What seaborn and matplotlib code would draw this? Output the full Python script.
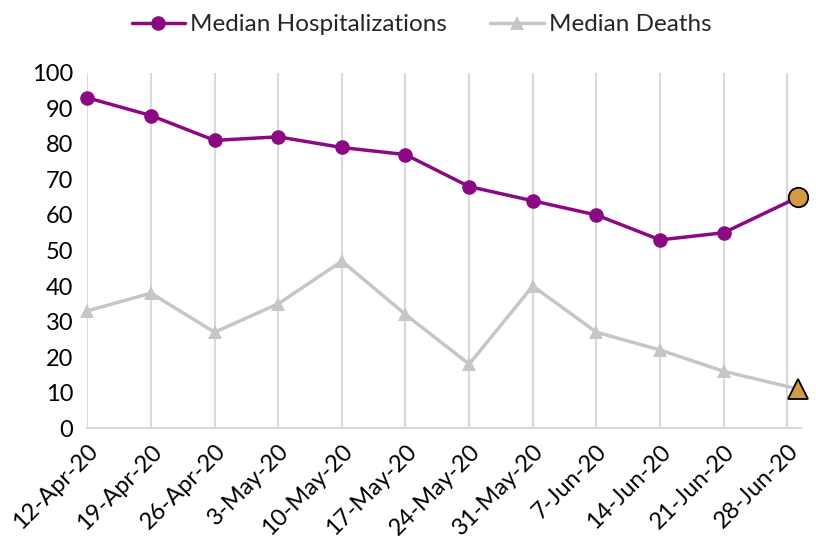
import matplotlib
matplotlib.use("Agg")
import matplotlib.pyplot as plt
import seaborn as sns
import pandas as pd
import numpy as np

weeks = ["12-Apr-20", "19-Apr-20", "26-Apr-20", "3-May-20", "10-May-20", "17-May-20",
         "24-May-20", "31-May-20", "7-Jun-20", "14-Jun-20", "21-Jun-20", "28-Jun-20"]
hospitalizations = [93, 88, 81, 82, 79, 77, 68, 64, 60, 53, 55, 65]
deaths = [33, 38, 27, 35, 47, 32, 18, 40, 27, 22, 16, 11]

sns.set_theme(style="white")
plt.rcParams['font.family'] = ['Lato', 'DejaVu Sans']

# last point sits slightly to the right of its gridline in the reference
xpos = list(range(len(weeks)))
xpos[-1] = len(weeks) - 1 + 0.17

df = pd.DataFrame({"x": xpos * 2,
                   "value": hospitalizations + deaths,
                   "series": ["Median Hospitalizations"] * len(weeks) + ["Median Deaths"] * len(weeks)})

fig, ax = plt.subplots(figsize=(8.16, 5.44), dpi=100)
fig.subplots_adjust(left=0.107, right=0.982, top=0.866, bottom=0.213)

purple = "#8B0A83"
gray = "#C6C6C6"
orange = "#D59A45"

sns.lineplot(data=df[df.series == "Median Hospitalizations"], x="x", y="value", ax=ax,
             color=purple, lw=2.5, marker="o", markersize=10.5, markeredgewidth=0,
             label="Median Hospitalizations", clip_on=False)
sns.lineplot(data=df[df.series == "Median Deaths"], x="x", y="value", ax=ax,
             color=gray, lw=2.5, marker="^", markersize=10.5, markeredgewidth=0,
             label="Median Deaths", clip_on=False)

ax.plot([xpos[-1]], [hospitalizations[-1]], marker="o", ms=14, mfc=orange, mec="black", mew=1.3,
        zorder=5, ls="none", clip_on=False)
ax.plot([xpos[-1]], [deaths[-1]], marker="^", ms=15, mfc=orange, mec="black", mew=1.3,
        zorder=5, ls="none", clip_on=False)

ax.set_xlim(0, 11.22)
ax.set_ylim(0, 100)
ax.set_yticks(range(0, 101, 10))
ax.set_xticks(range(len(weeks)))
ax.set_xticklabels(weeks, rotation=45, ha="right", rotation_mode="anchor")
ax.tick_params(axis="both", labelsize=17, colors="black")
ax.tick_params(axis="x", length=7, width=1.5, color="#D9D9D9", direction="out", pad=2)
ax.tick_params(axis="y", length=0, pad=10)
ax.xaxis.grid(True, color="#D9D9D9", lw=1.5)
ax.yaxis.grid(False)
for s in ["top", "right", "left"]:
    ax.spines[s].set_visible(False)
ax.spines["bottom"].set_color("#D9D9D9")
ax.spines["bottom"].set_linewidth(1.5)
ax.set_xlabel("")
ax.set_ylabel("")

ax.legend(loc="lower center", bbox_to_anchor=(0.468, 1.045), ncol=2, frameon=False,
          fontsize=17.5, handlelength=2.2, columnspacing=1.8, handletextpad=0.2)

fig.savefig("out.png", dpi=100)
